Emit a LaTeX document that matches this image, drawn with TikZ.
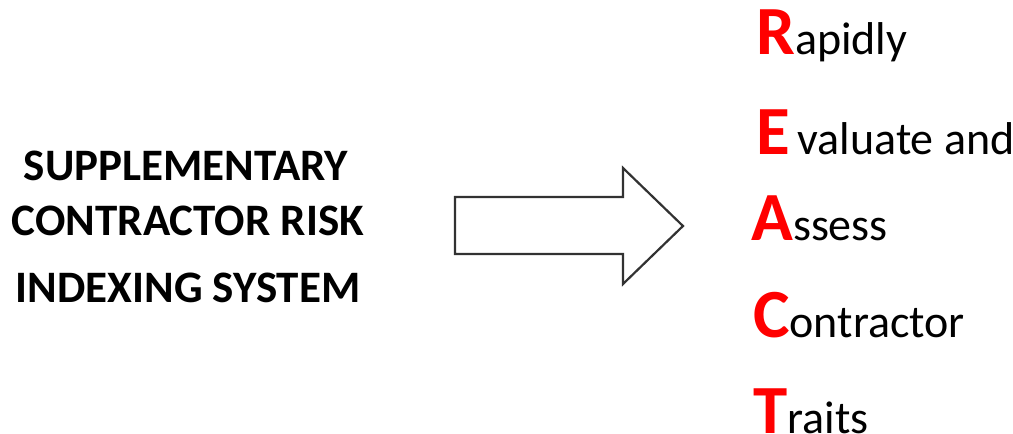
\documentclass[tikz,border=0pt]{standalone}
\usepackage{fontspec}
\setmainfont{Carlito}
\definecolor{reactred}{RGB}{255,0,0}
\definecolor{arrowgray}{RGB}{50,50,50}
\tikzset{
  lefttext/.style={anchor=base, inner sep=0pt, font=\fontsize{45}{48}\selectfont\bfseries},
  reactline/.style={anchor=base west, inner sep=0pt, font=\fontsize{46}{50}\selectfont},
  blockarrow/.style={draw=arrowgray, line width=2.2pt, line join=miter, fill=white}
}
\newcommand{\bigred}[1]{{\color{reactred}\fontsize{69}{72}\selectfont\bfseries #1}}
\begin{document}
\begin{tikzpicture}[x=1pt,y=-1pt]
\useasboundingbox (0,0) rectangle (1013,434);
% left text
\node[lefttext] (l1) at (186,180) {SUPPLEMENTARY};
\node[lefttext] (l2) at (188,235) {CONTRACTOR RISK};
\node[lefttext] (l3) at (188,302) {INDEXING SYSTEM};
% block arrow
\draw[blockarrow] (455,197) -- (623,197) -- (623,168) -- (683,226) -- (623,284) -- (623,254) -- (455,254) -- cycle;
% REACT
\node[reactline] (r) at (756,54) {\bigred{R}apidly};
\node[reactline] (e) at (756,154) {\bigred{E}\,valuate and};
\node[reactline] (a) at (751,240) {\bigred{A}ssess};
\node[reactline] (c) at (753,337) {\bigred{C}ontractor};
\node[reactline] (t) at (753,433) {\bigred{T}raits};
\end{tikzpicture}
\end{document}
